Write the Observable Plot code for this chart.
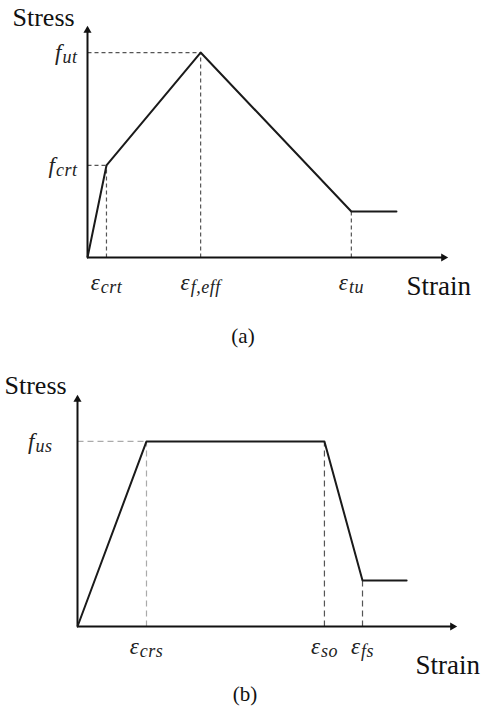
<!DOCTYPE html>
<html><head><meta charset="utf-8">
<script src="https://cdn.jsdelivr.net/npm/d3@7"></script>
<script src="https://cdn.jsdelivr.net/npm/@observablehq/plot@0.6"></script>
</head><body style="margin:0;background:#fff;font-family:'Times New Roman','Liberation Serif','DejaVu Serif',serif">
<div aria-hidden="true" style="position:absolute;left:0;top:0;opacity:0;font-family:'Times New Roman','Liberation Serif',serif;font-size:3px">S<i>fε</i></div>
<div id="panelA"></div>
<div style="width:486px;height:40px;line-height:40px;padding-top:6px;text-align:center;font-family:'Times New Roman','Liberation Serif',serif;font-size:21px;color:#111">(a)</div>
<div id="panelB"></div>
<div style="width:486px;height:24px;line-height:24px;text-align:center;font-family:'Times New Roman','Liberation Serif',serif;font-size:21px;color:#111"><span style="position:relative;left:2px">(b)</span></div>
<script>
// Panel (a): tension stress-strain (schematic, arbitrary units)
const strainA = [0, 5.3, 31.6, 73.7, 86.3];
const stressA = [0, 40.2, 89.5, 20.1, 20.1];
const strainTicksA = [5.3, 31.6, 73.7];
const strainLabelsA = ["crt", "f,eff", "tu"];
const stressTicksA = [40.2, 89.5];
const stressLabelsA = ["crt", "ut"];

// Panel (b): shear stress-strain (schematic, arbitrary units)
const strainB = [0, 18.3, 65.5, 75.6, 87.3];
const stressB = [0, 80.8, 80.8, 20.1, 20.1];
const strainTicksB = [18.3, 65.5, 75.6];
const strainLabelsB = ["crs", "so", "fs"];
const stressTicksB = [80.8];
const stressLabelsB = ["us"];

const serif = "'Times New Roman', 'Liberation Serif', 'DejaVu Serif', serif";

function panel(cfg) {
  const pts = cfg.strain.map((x, i) => ({x, y: cfg.stress[i]}));
  const vGuides = cfg.strainTicks.map(t => pts.find(p => p.x === t));
  const hGuides = cfg.stressTicks.map(t => pts.find(p => p.y === t));
  const xLab = cfg.strainTicks.map((t, i) => ({x: t, label: "ε|" + cfg.strainLabels[i]}));
  const yLab = cfg.stressTicks.map((t, i) => ({y: t, label: "f|" + cfg.stressLabels[i]}));
  const svg = Plot.plot({
    width: 486, height: cfg.height,
    marginLeft: cfg.ml, marginRight: cfg.mr, marginTop: cfg.mt, marginBottom: cfg.mb,
    x: {domain: [0, 100], axis: null},
    y: {domain: [0, 100], axis: null},
    marks: [
      Plot.link(vGuides, {x1: "x", x2: "x", y1: 0, y2: "y", stroke: cfg.vColor, strokeWidth: 1.2, strokeDasharray: cfg.dash}),
      Plot.link(hGuides, {x1: 0, x2: "x", y1: "y", y2: "y", stroke: cfg.hColor, strokeWidth: 1.2, strokeDasharray: cfg.dash}),
      Plot.ruleY([0], {x1: 0, x2: 100, stroke: "#111", strokeWidth: 2}),
      Plot.ruleX([0], {y1: 0, y2: 100, stroke: "#111", strokeWidth: 2}),
      Plot.dot([0], {x: 100, y: 0, symbol: "triangle", rotate: 90, r: 3, dx: -2, fill: "#111", stroke: "none"}),
      Plot.dot([0], {x: 0, y: 100, symbol: "triangle", r: 3, dy: 2, fill: "#111", stroke: "none"}),
      Plot.line(pts, {x: "x", y: "y", stroke: "#1a1a1a", strokeWidth: 2}),
      Plot.text(xLab, {x: "x", y: 0, text: "label", dy: cfg.xLabDy, lineAnchor: "bottom", textAnchor: "middle", fontFamily: serif, fontStyle: "italic", fontSize: 23, fill: "#222"}),
      Plot.text(yLab, {x: 0, y: "y", text: "label", dx: cfg.yLabDx, lineAnchor: "middle", textAnchor: "end", fontFamily: serif, fontStyle: "italic", fontSize: 23, fill: "#222"}),
      Plot.text(["Stress"], {frameAnchor: "top-left", dx: cfg.stressDx, dy: cfg.stressDy, lineAnchor: "bottom", textAnchor: "start", fontFamily: serif, fontSize: 26, fill: "#111"}),
      Plot.text(["Strain"], {frameAnchor: "bottom-right", dx: cfg.strainDx, dy: cfg.strainDy, lineAnchor: "bottom", textAnchor: "start", fontFamily: serif, fontSize: 27, fill: "#111"})
    ]
  });
  svg.style.display = "block";
  svg.querySelectorAll("text").forEach(t => {
    t.style.fontFamily = serif;
    const s = t.textContent;
    if (s.includes("|")) {
      const [main, sub] = s.split("|");
      t.textContent = "";
      const ns = "http://www.w3.org/2000/svg";
      const a = document.createElementNS(ns, "tspan");
      a.textContent = main;
      const b = document.createElementNS(ns, "tspan");
      b.textContent = sub;
      b.setAttribute("font-size", "18");
      b.setAttribute("dy", "3");
      b.setAttribute("dx", "1");
      b.setAttribute("letter-spacing", "0.5");
      t.appendChild(a); t.appendChild(b);
    }
  });
  return svg;
}

document.getElementById("panelA").appendChild(panel({
  strain: strainA, stress: stressA, strainTicks: strainTicksA, strainLabels: strainLabelsA,
  stressTicks: stressTicksA, stressLabels: stressLabelsA,
  height: 310, ml: 87, mr: 41, mt: 28, mb: 53,
  vColor: "#555", hColor: "#555", dash: "4,3",
  xLabDy: 32, yLabDx: -10,
  stressDx: -75, stressDy: -3,
  strainDx: -39, strainDy: 37
}));
document.getElementById("panelB").appendChild(panel({
  strain: strainB, stress: stressB, strainTicks: strainTicksB, strainLabels: strainLabelsB,
  stressTicks: stressTicksB, stressLabels: stressLabelsB,
  height: 326, ml: 77, mr: 32, mt: 41, mb: 56,
  vColor: d => (d.x === strainTicksB[0] ? "#aaa" : "#555"), hColor: "#aaa", dash: "6,4",
  xLabDy: 27, yLabDx: -25,
  stressDx: -73, stressDy: -4,
  strainDx: -39, strainDy: 47
}));
</script></body></html>
